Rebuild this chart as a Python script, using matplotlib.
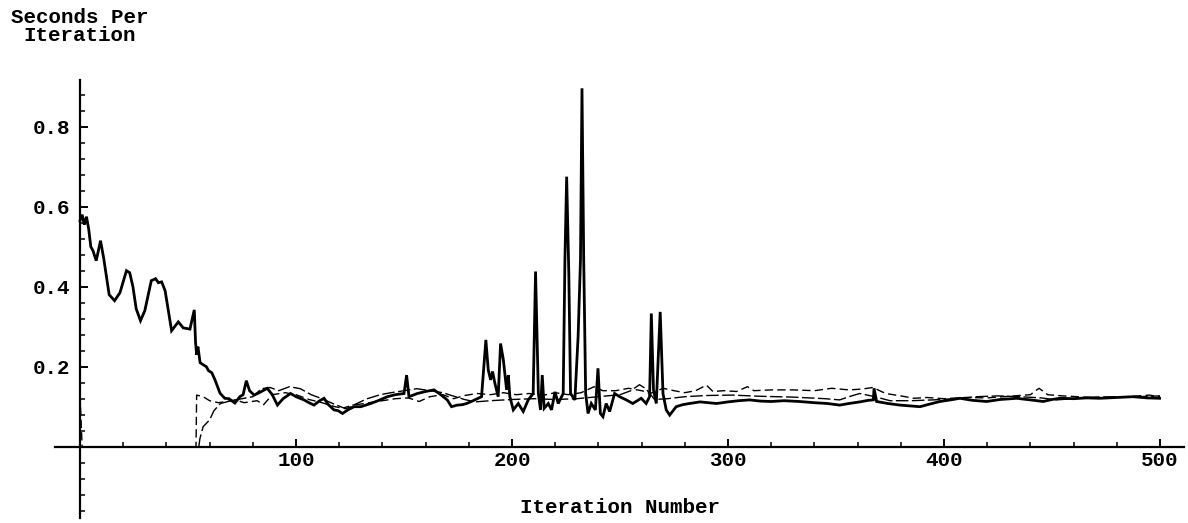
import matplotlib
matplotlib.use("Agg")
import matplotlib.pyplot as plt
import matplotlib.ticker as ticker

plt.rcParams["font.family"] = ["Liberation Mono", "DejaVu Sans Mono"]
plt.rcParams["font.weight"] = "bold"

#  thick solid run
iter_a = [0, 1, 2, 3, 4, 5, 6, 7.5, 9.5, 11, 13.5, 16, 18.5, 21.5, 23, 24.5, 26, 28, 30, 33,
          35, 36.3, 37.8, 39.4, 42.4, 45.5, 47.8, 50.9, 52.9, 53.5, 54, 54.6, 55.6, 57, 58.5, 59.5,
          61, 62.5, 64.8, 67, 69, 71.7, 74, 75.5, 77, 78.5, 80.6, 83, 86.7, 89, 91.4, 94, 97.5,
          100, 103.7, 106, 108.3, 111, 113, 115, 117.6, 119.5, 121.5, 124, 126.9, 130, 134.6,
          138, 142.3, 146, 150, 151.2, 152.3, 156.2, 160, 163.9, 167, 170, 172, 174.7, 177, 179,
          182, 185.9, 187.9, 189, 190.1, 191, 192.1, 193.6, 194.7, 196, 197.5, 198.3, 199, 200.6,
          202.9, 205.2, 207.5, 209.8, 210.9, 212.2, 213.2, 214, 214.9, 216.8, 218.3, 219.9, 221.4,
          223.7, 224.5, 225.3, 226.3, 227.1, 229.1, 230.6, 231.7, 232.4, 233.2, 234.1, 235.2,
          236.7, 238.6, 239.8, 240.9, 242.1, 243.6, 245.2, 247.5, 249.8, 252.9, 255.9, 259.8,
          262.1, 263.7, 264.5, 265.5, 266.8, 268.6, 269.9, 271.4, 273, 276, 279, 282.2, 287, 291,
          294.7, 300, 305, 310, 315, 320, 326, 333, 340, 346, 351.7, 356, 361, 365, 367.3, 367.6,
          368.8, 374, 379.6, 384, 388.9, 393, 398.1, 403, 407.4, 413, 419.7, 426, 433.6, 440,
          445.9, 450, 453.6, 460, 466, 472.1, 480, 487.5, 494, 499.8]
sec_a = [0.565, 0.58, 0.555, 0.575, 0.545, 0.50, 0.49, 0.465, 0.515, 0.47, 0.38, 0.365, 0.385,
         0.44, 0.435, 0.40, 0.345, 0.315, 0.34, 0.415, 0.42, 0.41, 0.412, 0.39, 0.29, 0.312,
         0.297, 0.294, 0.342, 0.26, 0.23, 0.25, 0.21, 0.205, 0.2, 0.19, 0.185, 0.167, 0.134,
         0.121, 0.12, 0.109, 0.125, 0.13, 0.165, 0.14, 0.129, 0.135, 0.146, 0.13, 0.104, 0.12,
         0.133, 0.125, 0.117, 0.11, 0.104, 0.115, 0.121, 0.105, 0.092, 0.09, 0.083, 0.092, 0.10,
         0.10, 0.108, 0.115, 0.125, 0.13, 0.133, 0.179, 0.125, 0.133, 0.138, 0.142, 0.13, 0.117,
         0.10, 0.104, 0.105, 0.108, 0.115, 0.125, 0.267, 0.192, 0.167, 0.188, 0.158, 0.125,
         0.258, 0.217, 0.142, 0.179, 0.125, 0.092, 0.108, 0.088, 0.117, 0.133, 0.438, 0.133,
         0.092, 0.179, 0.096, 0.108, 0.092, 0.137, 0.108, 0.133, 0.467, 0.675, 0.433, 0.133,
         0.117, 0.275, 0.467, 0.896, 0.467, 0.133, 0.083, 0.108, 0.092, 0.196, 0.083, 0.075,
         0.108, 0.088, 0.133, 0.125, 0.117, 0.108, 0.121, 0.108, 0.125, 0.333, 0.142, 0.108,
         0.337, 0.133, 0.092, 0.079, 0.10, 0.105, 0.108, 0.112, 0.11, 0.108, 0.112, 0.115, 0.117,
         0.114, 0.113, 0.115, 0.113, 0.11, 0.108, 0.104, 0.108, 0.112, 0.116, 0.117, 0.146,
         0.113, 0.108, 0.104, 0.102, 0.10, 0.106, 0.113, 0.117, 0.121, 0.116, 0.113, 0.118,
         0.121, 0.117, 0.113, 0.118, 0.121, 0.12, 0.122, 0.121, 0.123, 0.125, 0.122, 0.121]

#  short dashed run
iter_b = [0, 1, 53.7, 54, 57, 60, 64, 68, 72, 76, 82, 85, 89, 95, 100, 106, 112, 118, 123, 128,
          134, 140, 146, 152, 157, 162, 168, 173, 178, 184, 190, 196, 202, 208, 214, 220, 226,
          232, 238, 242, 248, 254, 260, 264, 270, 275, 280, 285, 290, 293, 298, 304, 309, 312,
          320, 330, 340, 348, 356, 362, 367, 373, 380, 386, 392, 400, 410, 420, 430, 440, 444,
          448, 455, 465, 475, 485, 495, 500]
sec_b = [0.13, 0.0, 0.0, 0.129, 0.125, 0.115, 0.11, 0.113, 0.117, 0.11, 0.115, 0.105, 0.13,
         0.135, 0.13, 0.118, 0.11, 0.10, 0.095, 0.105, 0.11, 0.115, 0.12, 0.122, 0.113, 0.125,
         0.13, 0.12, 0.128, 0.133, 0.13, 0.135, 0.13, 0.133, 0.128, 0.135, 0.13, 0.135, 0.15,
         0.14, 0.14, 0.146, 0.14, 0.133, 0.146, 0.14, 0.135, 0.14, 0.154, 0.138, 0.14, 0.138,
         0.15, 0.14, 0.142, 0.142, 0.14, 0.146, 0.142, 0.144, 0.148, 0.133, 0.127, 0.121, 0.123,
         0.12, 0.123, 0.122, 0.126, 0.13, 0.146, 0.13, 0.127, 0.124, 0.122, 0.125, 0.129, 0.125]

#  long dashed run
iter_c = [55, 55.5, 57, 60, 62, 65, 70, 75, 80, 84, 88, 92, 97, 102, 107, 112, 117, 122, 127,
          133, 139, 144, 150, 156, 162, 168, 172, 178, 183, 190, 200, 210, 220, 230, 240, 250,
          255, 259, 262, 266, 272, 280, 290, 302, 315, 330, 345, 351.7, 356, 361, 368, 375, 385,
          395, 405, 415, 425, 435, 445, 452, 460, 470, 480, 490, 500]
sec_c = [0.0, 0.02, 0.05, 0.067, 0.09, 0.108, 0.115, 0.12, 0.125, 0.145, 0.148, 0.14, 0.15,
         0.145, 0.13, 0.12, 0.108, 0.097, 0.105, 0.12, 0.13, 0.135, 0.14, 0.145, 0.14, 0.135,
         0.128, 0.118, 0.112, 0.115, 0.118, 0.12, 0.118, 0.12, 0.125, 0.13, 0.14, 0.155, 0.145,
         0.118, 0.12, 0.125, 0.128, 0.129, 0.126, 0.124, 0.12, 0.117, 0.125, 0.133, 0.125, 0.115,
         0.115, 0.117, 0.12, 0.125, 0.127, 0.125, 0.122, 0.117, 0.12, 0.124, 0.125, 0.125, 0.127]

x_major = [100, 200, 300, 400, 500]
x_minor = [20, 40, 60, 80, 120, 140, 160, 180, 220, 240, 260, 280, 320, 340, 360, 380,
           420, 440, 460, 480]
y_major = [0.2, 0.4, 0.6, 0.8]
y_labels = ["0.2", "0.4", "0.6", "0.8"]
y_minor = [-0.16, -0.12, -0.08, -0.04, 0.04, 0.08, 0.12, 0.16, 0.24, 0.28, 0.32, 0.36,
           0.44, 0.48, 0.52, 0.56, 0.64, 0.68, 0.72, 0.76, 0.84, 0.88]

fig = plt.figure(figsize=(11.88, 5.23), dpi=100)
ax = fig.add_axes([0, 0, 1, 1])
ax.set_xlim(-37.04, 512.96)
ax.set_ylim(-0.19075, 1.1167)

ax.plot(iter_a, sec_a, color='k', linewidth=2.0, solid_joinstyle='miter')
ax.plot(iter_b, sec_b, color='k', linewidth=1.0, dashes=(6, 3))
ax.plot(iter_c, sec_c, color='k', linewidth=1.0, dashes=(9, 2.5))

#  axes cross at the origin, Mathematica style
for side in ['top', 'right']:
    ax.spines[side].set_visible(False)
ax.spines['left'].set_position(('data', 0))
ax.spines['bottom'].set_position(('data', 0))
ax.spines['left'].set_bounds(-0.178, 0.917)
ax.spines['bottom'].set_bounds(-11.6, 511)
ax.spines['left'].set_linewidth(1.6)
ax.spines['bottom'].set_linewidth(1.6)

ax.set_xticks(x_major)
ax.set_yticks(y_major)
ax.set_yticklabels(y_labels)
ax.xaxis.set_minor_locator(ticker.FixedLocator(x_minor))
ax.yaxis.set_minor_locator(ticker.FixedLocator(y_minor))
ax.tick_params(which='major', direction='in', length=6, width=1.4, labelsize=15)
ax.tick_params(which='minor', direction='in', length=3.5, width=1.1)
ax.tick_params(axis='x', which='major', pad=3)
ax.tick_params(axis='y', which='major', pad=7)
ax.set_facecolor('white')

fig.text(80 / 1188, 1 - 8 / 523, "Seconds Per\nIteration", ha='center', va='top',
         multialignment='center', linespacing=0.95, fontsize=15, fontweight='bold')
fig.text(620 / 1188, 1 - 513 / 523, "Iteration Number", ha='center', va='baseline',
         fontsize=15, fontweight='bold')

fig.savefig("out.png", dpi=100)
